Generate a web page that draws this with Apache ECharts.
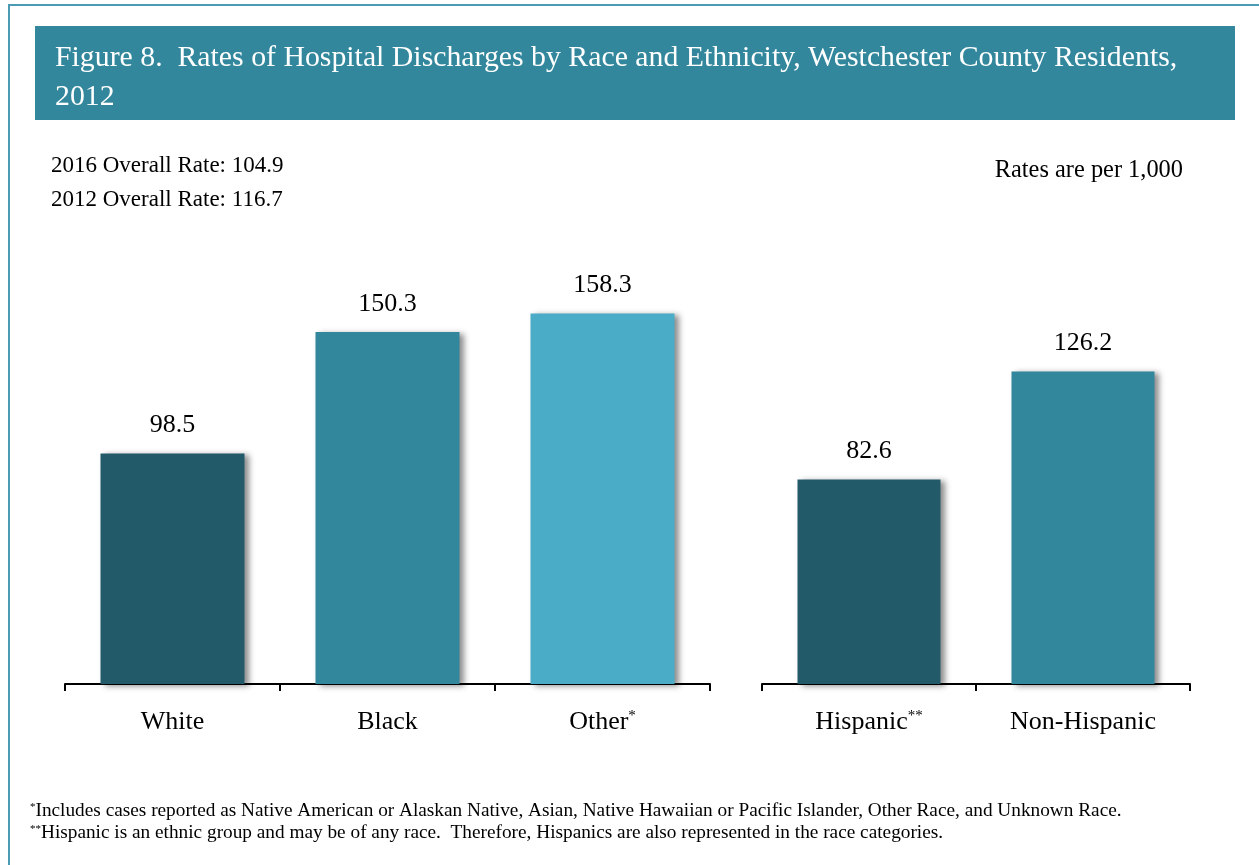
<!DOCTYPE html>
<html>
<head>
<meta charset="utf-8">
<script src="https://cdn.jsdelivr.net/npm/echarts@6/dist/echarts.min.js"></script>
<style>
  html, body { margin: 0; padding: 0; background: #fff; }
  #cv { width: 1259px; height: 865px; }
</style>
</head>
<body>
<div id="cv"></div>
<script>
var raceCats = ['White', 'Black', 'Other'];
var raceVals = [98.5, 150.3, 158.3];
var ethCats = ['Hispanic', 'Non-Hispanic'];
var ethVals = [82.6, 126.2];
var raceColors = ['#225a6a', '#32879c', '#4aacc6'];
var ethColors = ['#225a6a', '#32879c'];
var catMarks = { Other: '*', Hispanic: '**' };

var serif = '"Liberation Serif", "Times New Roman", serif';

var myChart = echarts.init(document.getElementById('cv'));

function barData(vals, colors) {
  return vals.map(function (v, i) {
    return { value: v, itemStyle: { color: colors[i] } };
  });
}

function catAxis(cats, idx) {
  return {
    type: 'category',
    gridIndex: idx,
    data: cats,
    axisLine: { lineStyle: { color: '#000', width: 2 } },
    axisTick: { show: true, inside: false, alignWithLabel: false, length: 7, lineStyle: { color: '#000', width: 2 } },
    axisLabel: {
      margin: 25,
      formatter: function (v) {
        return catMarks[v] ? '{n|' + v + '}{s|' + catMarks[v] + '}' : '{n|' + v + '}';
      },
      rich: {
        n: { fontFamily: serif, fontSize: 26, color: '#000' },
        s: { fontFamily: serif, fontSize: 15, color: '#000', verticalAlign: 'top', padding: [0, 0, 10, 0] }
      }
    }
  };
}

function valAxis(idx) {
  return { type: 'value', gridIndex: idx, min: 0, max: 170, show: false, splitLine: { show: false } };
}

var barStyle = {
  shadowColor: 'rgba(0,0,0,0.45)',
  shadowBlur: 6,
  shadowOffsetX: 4,
  shadowOffsetY: 2
};

var valLabel = {
  show: true,
  position: 'top',
  distance: 15,
  fontFamily: serif,
  fontSize: 26,
  color: '#000',
  formatter: function (p) { return p.value.toFixed(1); }
};

var noteRich = {
  s: { fontSize: 11, fontFamily: serif, fill: '#000', verticalAlign: 'top' },
  t: { fontSize: 19.3, fontFamily: serif, fill: '#000' }
};

var option = {
  animation: false,
  backgroundColor: '#fff',
  graphic: [
    { type: 'rect', shape: { x: 9, y: 5, width: 1300, height: 900 }, style: { fill: 'none', stroke: '#4b9cb2', lineWidth: 2 } },
    { type: 'rect', shape: { x: 35, y: 26, width: 1200, height: 94 }, style: { fill: '#32879c' } },
    { type: 'text', x: 55, y: 58, style: { text: 'Figure 8.  Rates of Hospital Discharges by Race and Ethnicity, Westchester County Residents,', font: '29.8px ' + serif, fill: '#fff', verticalAlign: 'middle' } },
    { type: 'text', x: 55, y: 97, style: { text: '2012', font: '29.8px ' + serif, fill: '#fff', verticalAlign: 'middle' } },
    { type: 'text', x: 51, y: 166, style: { text: '2016 Overall Rate: 104.9', font: '23px ' + serif, fill: '#000', verticalAlign: 'middle' } },
    { type: 'text', x: 51, y: 200, style: { text: '2012 Overall Rate: 116.7', font: '23px ' + serif, fill: '#000', verticalAlign: 'middle' } },
    { type: 'text', x: 1183, y: 171, style: { text: 'Rates are per 1,000', font: '24.4px ' + serif, fill: '#000', align: 'right', verticalAlign: 'middle' } },
    { type: 'text', x: 30, y: 811, style: {
      rich: noteRich,
      text: '{s|*}{t|Includes cases reported as Native American or Alaskan Native, Asian, Native Hawaiian or Pacific Islander, Other Race, and Unknown Race.}',
      verticalAlign: 'middle' } },
    { type: 'text', x: 30, y: 833, style: {
      rich: noteRich,
      text: '{s|**}{t|Hispanic is an ethnic group and may be of any race.  Therefore, Hispanics are also represented in the race categories.}',
      verticalAlign: 'middle' } }
  ],
  grid: [
    { left: 65, width: 645, bottom: 181, top: 286 },
    { left: 762, width: 428, bottom: 181, top: 263 }
  ],
  xAxis: [catAxis(raceCats, 0), catAxis(ethCats, 1)],
  yAxis: [valAxis(0), valAxis(1)],
  series: [
    {
      name: 'Race',
      type: 'bar',
      xAxisIndex: 0,
      yAxisIndex: 0,
      barWidth: 144,
      itemStyle: barStyle,
      label: valLabel,
      data: barData(raceVals, raceColors)
    },
    {
      name: 'Ethnicity',
      type: 'bar',
      xAxisIndex: 1,
      yAxisIndex: 1,
      barWidth: 143,
      itemStyle: barStyle,
      label: valLabel,
      data: barData(ethVals, ethColors)
    }
  ]
};

myChart.setOption(option);
</script>
</body>
</html>
